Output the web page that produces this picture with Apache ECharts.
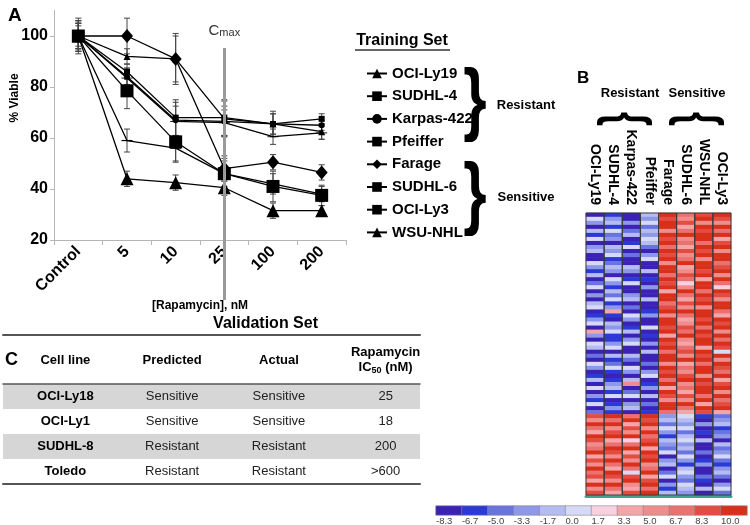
<!DOCTYPE html>
<html><head><meta charset="utf-8">
<script src="https://cdn.jsdelivr.net/npm/echarts@6/dist/echarts.min.js"></script>
<style>html,body{margin:0;padding:0;background:#fff}#c{width:750px;height:525px}</style>
</head><body><div id="c"></div>
<script>
// ---------- Panel A data ----------
const doses = ['Control', '5', '10', '25', '100', '200'];
const lineNames = ['OCI-Ly19', 'SUDHL-4', 'Karpas-422', 'Pfeiffer', 'Farage', 'SUDHL-6', 'OCI-Ly3', 'WSU-NHL'];
const ociLy19   = [100, 92, 91, 67.5, 65.5, 62.5];
const sudhl4    = [100, 86, 68, 68, 65.5, 67.5];
const karpas422 = [100, 84, 67, 66.5, 65.5, 65];
const pfeiffer  = [100, 83.5, 66.5, 66, 60.5, 62];
const farage    = [100, 100, 91, 48, 50.5, 46.5];
const sudhl6    = [100, 59, 56, 46, 42, 38];
const ociLy3    = [100, 78.5, 58.5, 46, 41, 37.5];
const wsuNhl    = [100, 44, 42.5, 40.5, 31.5, 31.5];
// symmetric error bars (+/-)
const errOciLy19   = [6, 3, 9, 7, 4, 3];
const errSudhl4    = [5, 3, 7, 7, 5, 2];
const errKarpas422 = [6, 3, 7, 6, 4, 2];
const errPfeiffer  = [5, 4, 6, 5, 3, 2.5];
const errFarage    = [7, 7, 10, 5, 3, 3];
const errSudhl6    = [6, 4.5, 5, 5, 4, 3];
const errOciLy3    = [5, 7, 8, 6, 6, 4];
const errWsuNhl    = [4, 3, 3, 3, 3, 2];
const cmaxDose = '25';
const yTicks = {min: 20, max: 110, interval: 20};

// ---------- Panel B data ----------
const heatColumns = ['OCI-Ly19', 'SUDHL-4', 'Karpas-422', 'Pfeiffer', 'Farage', 'SUDHL-6', 'WSU-NHL', 'OCI-Ly3'];
const hOciLy19 = [
  -9,-1,-4,-9,-2,-8,-1,-9,-4,-2, -9,-9,-1,-4,-8,-2,-9,-6,-1,-9, -4,-9,-2,-1,-9,-8,-4,-1,-9,2,
  -4,-9,-1,-2,-9,-6,-9,-1,-4,-9, -8,-2,-9,-1,-9,-4,-8,-1,-9,-6,
  7,4,9,6,2,9,7,4,6,9, 2,7,4,9,6,7,2,9,4,7];
const hSudhl4 = [
  -8,-4,-2,-8,-1,-6,-4,-9,-2,-4, -1,-8,-6,-2,-4,-9,-1,-4,-8,-2, -6,-1,-8,-4,2,-8,-9,-2,-4,-1,
  -8,-8,-4,-1,-9,-2,-8,-6,-1,-8, -9,-8,-4,-2,-8,-1,-9,-8,-4,-8,
  9,6,9,4,7,9,2,6,9,7, 4,9,6,2,9,7,4,9,6,2];
const hKarpas422 = [
  -9,-9,-4,-9,-6,-2,-9,-8,-1,-9, -6,-9,-9,-2,-4,-9,-8,-1,-9,-9, -4,-2,-9,-6,-9,-1,-4,-9,-8,-2,
  -9,-4,-1,-9,-9,-2,-6,-9,-1,-4, -9,-2,4,-9,-6,-1,-9,-4,-2,-9,
  6,9,2,7,4,9,1,6,9,2, 7,4,9,6,-1,7,9,4,2,7];
const hPfeiffer = [
  -2,-4,-1,-6,-2,-4,-1,-2,-6,-9, -4,-1,-9,-9,-2,-9,-8,-9,-4,-9, -9,-2,-9,-9,-8,-4,-9,-9,-1,-9,
  -8,-9,-4,-9,-2,-9,-9,-6,-9,-4, -1,-9,-8,-4,-9,-2,-9,-6,-9,-8,
  9,7,9,4,9,6,7,9,2,9, 7,9,4,6,9,2,7,9,6,9];
const hFarage = [
  9,7,9,9,4,9,7,9,6,9, 7,9,4,9,9,6,9,7,9,2, 9,9,6,7,9,4,9,9,7,9,
  2,9,7,9,6,9,9,4,9,7, 9,6,9,2,9,7,4,9,9,6,
  -4,-2,-6,-1,-4,-8,-2,-4,-6,-1, -9,-4,-2,-9,-6,-1,-9,-4,-8,-2];
const hSudhl6 = [
  6,4,7,2,6,9,4,6,2,7, 4,6,9,2,4,7,6,1,4,9, 6,2,7,4,9,6,2,4,7,6,
  9,4,2,6,7,4,9,2,6,4, 7,9,4,6,2,7,4,9,6,2,
  -1,-2,-4,-1,-6,-2,-1,-4,-2,-6, -1,-4,-8,-2,-1,-4,-6,-1,-2,-4];
const hWsuNhl = [
  7,9,4,9,7,9,9,6,9,7, 9,4,9,9,7,9,2,9,9,6, 9,7,9,4,9,9,7,9,6,9,
  7,9,9,2,9,7,9,6,9,9, 4,9,7,9,9,6,9,2,9,7,
  -8,-9,-4,-9,-8,-9,-2,-9,-9,-6, -9,-8,-4,-9,-9,-6,-8,-9,-2,-9];
const hOciLy3 = [
  9,7,4,9,6,9,2,7,9,4, 9,9,6,7,9,4,9,6,1,9, 7,4,9,9,6,2,9,7,9,4,
  9,6,9,7,-1,9,4,9,7,6, 9,2,7,9,4,9,6,7,9,2,
  -6,-4,-2,-8,-6,-4,-9,-2,-6,-4, -1,-6,-8,-4,-2,-6,-9,-4,-1,-6];
const heatValues = [hOciLy19, hSudhl4, hKarpas422, hPfeiffer, hFarage, hSudhl6, hWsuNhl, hOciLy3];
const levelLabels = ['-8.3', '-6.7', '-5.0', '-3.3', '-1.7', '0.0', '1.7', '3.3', '5.0', '6.7', '8.3', '10.0'];
const levelValues = [-9, -8, -6, -4, -2, -1, 1, 2, 4, 6, 7, 9];
const levelBreaks = [-8.33, -6.67, -5, -3.33, -1.67, 0, 1.67, 3.33, 5, 6.67, 8.33];
const levelColors = ['#3b22b4', '#2b39d6', '#6a74e0', '#8e98ea', '#b5bcf2', '#d6daf8',
                     '#f9d0e0', '#f5a5a8', '#f08c8c', '#eb7070', '#e44c42', '#d8301a'];

// ---------- Panel C data ----------
const tableHeaders = ['Cell line', 'Predicted', 'Actual', 'Rapamycin\nIC{s|50} (nM)'];
const valCellLines = ['OCI-Ly18', 'OCI-Ly1', 'SUDHL-8', 'Toledo'];
const valPredicted = ['Sensitive', 'Sensitive', 'Resistant', 'Resistant'];
const valActual    = ['Sensitive', 'Sensitive', 'Resistant', 'Resistant'];
const valIC50      = ['25', '18', '200', '>600'];

// ---------- build ----------
const FONT = '"Liberation Sans", Arial, Helvetica, sans-serif';
const seriesVals = [ociLy19, sudhl4, karpas422, pfeiffer, farage, sudhl6, ociLy3, wsuNhl];
const seriesErr = [errOciLy19, errSudhl4, errKarpas422, errPfeiffer, errFarage, errSudhl6, errOciLy3, errWsuNhl];
const dash = 'path://M0 0H10V3H0Z';
const markers = [
  {symbol: 'triangle', size: 7},
  {symbol: 'rect', size: 6},
  {symbol: 'circle', size: 6},
  {symbol: dash, size: [11, 3]},
  {symbol: 'diamond', size: [12, 14]},
  {symbol: dash, size: [11, 4]},
  {symbol: 'rect', size: 13},
  {symbol: 'triangle', size: 13}
];

function errRender(params, api) {
  const x = api.value(0);
  const p1 = api.coord([x, api.value(1)]);
  const p2 = api.coord([x, api.value(2)]);
  const w = 3;
  const st = {stroke: '#444', lineWidth: 1};
  return {type: 'group', children: [
    {type: 'line', shape: {x1: p1[0], y1: p1[1], x2: p2[0], y2: p2[1]}, style: st},
    {type: 'line', shape: {x1: p1[0] - w, y1: p1[1], x2: p1[0] + w, y2: p1[1]}, style: st},
    {type: 'line', shape: {x1: p2[0] - w, y1: p2[1], x2: p2[0] + w, y2: p2[1]}, style: st}
  ]};
}

const series = [];
lineNames.forEach((n, i) => {
  series.push({
    type: 'line', name: n, xAxisIndex: 0, yAxisIndex: 0, data: seriesVals[i],
    symbol: markers[i].symbol, symbolSize: markers[i].size, symbolKeepAspect: true,
    showAllSymbol: true, lineStyle: {color: '#000', width: 1.3}, itemStyle: {color: '#000'},
    emphasis: {disabled: true}, z: 4
  });
});
lineNames.forEach((n, i) => {
  series.push({
    type: 'custom', xAxisIndex: 0, yAxisIndex: 0, silent: true, z: 3,
    data: seriesVals[i].map((v, j) => [j, v - seriesErr[i][j], v + seriesErr[i][j]]),
    encode: {x: 0, y: [1, 2]}, renderItem: errRender
  });
});
// Cmax line
series.push({
  type: 'line', xAxisIndex: 1, yAxisIndex: 1, data: [], silent: true, z: 2,
  markLine: {
    silent: true, symbol: 'none', animation: false,
    data: [{xAxis: cmaxDose}],
    lineStyle: {color: '#9a9a9a', width: 3, type: 'solid'},
    label: {show: true, position: 'end', distance: 10, formatter: '{a|C}{b|max}',
      rich: {a: {fontSize: 15, color: '#333', fontFamily: FONT, lineHeight: 16, verticalAlign: 'bottom'},
             b: {fontSize: 11, color: '#333', fontFamily: FONT, lineHeight: 16, verticalAlign: 'bottom'}}},
    emphasis: {disabled: true}
  }
});
// heatmap
const rows = heatValues[0].map((_, i) => 'g' + i);
const heatData = [];
heatValues.forEach((col, c) => col.forEach((v, r) => heatData.push([c, r, v])));
series.push({
  type: 'heatmap', xAxisIndex: 2, yAxisIndex: 2, data: heatData, silent: true,
  itemStyle: {borderWidth: 0}, emphasis: {disabled: true}, progressive: 0
});
series.push({
  type: 'custom', xAxisIndex: 2, yAxisIndex: 2, silent: true, z: 5,
  data: heatColumns.map((_, i) => [i, 0]),
  renderItem: function (params, api) {
    const cs = params.coordSys;
    const p = api.coord([api.value(0), 0]);
    const bw = api.size([1, 0])[0];
    return {type: 'rect', shape: {x: p[0] - bw / 2, y: cs.y, width: bw, height: cs.height},
      style: {fill: 'none', stroke: '#3a3a3a', lineWidth: 1}};
  }
});
// colour bar
series.push({
  type: 'heatmap', xAxisIndex: 4, yAxisIndex: 3, silent: true,
  data: levelValues.map((v, i) => [i, 0, v]),
  itemStyle: {borderColor: '#888', borderWidth: 0.6}, emphasis: {disabled: true}
});
// table text
const tableCols = [valCellLines, valPredicted, valActual, valIC50];
const tableCells = [];
valCellLines.forEach((_, r) => tableCols.forEach((_, c) => tableCells.push([c, r])));
series.push({
  type: 'custom', xAxisIndex: 9, yAxisIndex: 5, silent: true, z: 5,
  data: tableCells,
  renderItem: function (params, api) {
    const c = api.value(0), r = api.value(1);
    const p = api.coord([c, r]);
    return {type: 'text', x: p[0], y: p[1], style: {
      text: tableCols[c][r], fontFamily: FONT, fontSize: 13,
      fontWeight: c === 0 ? 'bold' : 'normal', fill: c === 0 ? '#000' : '#222',
      align: 'center', verticalAlign: 'middle'}};
  }
});

const pieces = levelColors.map((col, i) => {
  const p = {color: col};
  if (i > 0) p.gte = levelBreaks[i - 1];
  if (i < levelBreaks.length) p.lt = levelBreaks[i];
  return p;
});

const hidden = {show: false};
const option = {
  animation: false,
  backgroundColor: '#fff',
  textStyle: {fontFamily: FONT},
  grid: [
    {left: 54, top: 10.5, width: 292, height: 229.5, outerBoundsMode: 'none'},
    {left: 54, top: 48, width: 292, height: 252, outerBoundsMode: 'none'},
    {left: 586, top: 213, width: 145, height: 282, outerBoundsMode: 'none'},
    {left: 436, top: 506, width: 311, height: 9, outerBoundsMode: 'none'},
    {left: 3, top: 384, width: 417, height: 100, outerBoundsMode: 'none'},
    {left: 12, top: 384, width: 427, height: 100, outerBoundsMode: 'none'}
  ],
  xAxis: [
    {gridIndex: 0, type: 'category', data: doses,
      axisLine: {lineStyle: {color: '#b5b5b5', width: 1}},
      axisTick: {show: true, length: 5, lineStyle: {color: '#b5b5b5'}},
      axisLabel: {interval: 0, rotate: 45, margin: 9, fontSize: 16, fontWeight: 'bold', color: '#000', fontFamily: FONT},
      name: '[Rapamycin], nM', nameLocation: 'middle', nameGap: 60,
      nameTextStyle: {fontSize: 12, fontWeight: 'bold', color: '#000', fontFamily: FONT},
      splitLine: hidden},
    {gridIndex: 1, type: 'category', data: doses, show: false},
    {gridIndex: 2, type: 'category', data: heatColumns, position: 'top',
      axisLine: hidden, axisTick: hidden, splitLine: hidden,
      axisLabel: {interval: 0, rotate: 90, margin: 8, fontSize: 14, fontWeight: 'bold', color: '#000', fontFamily: FONT}},
    {gridIndex: 2, type: 'category', data: heatColumns, position: 'bottom', offset: 1,
      axisLine: {show: true, lineStyle: {color: '#3fa58f', width: 3}}, axisTick: hidden, axisLabel: hidden, splitLine: hidden},
    {gridIndex: 3, type: 'category', data: levelLabels, position: 'top', show: false},
    {gridIndex: 3, type: 'category', data: levelLabels.concat(['']), position: 'bottom', boundaryGap: false,
      axisLine: hidden, axisTick: hidden, splitLine: hidden,
      axisLabel: {interval: 0, align: 'left', margin: 1, fontSize: 9.5, color: '#444', fontFamily: FONT}},
    {gridIndex: 4, type: 'category', data: tableHeaders, position: 'bottom',
      axisLine: {show: true, lineStyle: {color: '#555', width: 2}}, axisTick: hidden, axisLabel: hidden, splitLine: hidden},
    {gridIndex: 4, type: 'category', data: tableHeaders, position: 'top',
      axisLine: {show: true, lineStyle: {color: '#555', width: 1.5}}, axisTick: hidden, axisLabel: hidden, splitLine: hidden},
    {gridIndex: 4, type: 'category', data: tableHeaders, position: 'top', offset: 49,
      axisLine: {show: true, lineStyle: {color: '#555', width: 2}}, axisTick: hidden, axisLabel: hidden, splitLine: hidden},
    {gridIndex: 5, type: 'category', data: tableHeaders, position: 'top',
      axisLine: hidden, axisTick: hidden, splitLine: hidden,
      axisLabel: {interval: 0, margin: 24, verticalAlign: 'middle', lineHeight: 15, fontSize: 13, fontWeight: 'bold', color: '#000', fontFamily: FONT,
        rich: {s: {fontSize: 9, fontWeight: 'bold', color: '#000', verticalAlign: 'bottom', lineHeight: 15, fontFamily: FONT}}}}
  ],
  yAxis: [
    {gridIndex: 0, type: 'value', min: yTicks.min, max: yTicks.max, interval: yTicks.interval,
      axisLine: {show: true, lineStyle: {color: '#b5b5b5', width: 1}},
      axisTick: {show: true, length: 4, lineStyle: {color: '#b5b5b5'}},
      axisLabel: {showMaxLabel: false, margin: 6, fontSize: 16, fontWeight: 'bold', color: '#000', fontFamily: FONT},
      splitLine: hidden},
    {gridIndex: 1, type: 'value', min: 0, max: 1, show: false},
    {gridIndex: 2, type: 'category', data: rows, inverse: true, show: false},
    {gridIndex: 3, type: 'category', data: ['bar'], show: false},
    {gridIndex: 4, type: 'category', data: valCellLines, inverse: true,
      axisLine: hidden, axisTick: hidden, axisLabel: hidden, splitLine: hidden,
      splitArea: {show: true, areaStyle: {color: ['#d6d6d6', '#ffffff']}}},
    {gridIndex: 5, type: 'category', data: valCellLines, inverse: true, show: false}
  ],
  visualMap: {type: 'piecewise', show: false, seriesIndex: [17, 19], dimension: 2, pieces: pieces},
  legend: {
    data: lineNames, orient: 'vertical', left: 361, top: 61, itemWidth: 20, itemHeight: 12, itemGap: 7.7,
    selectedMode: false, textStyle: {fontSize: 15, fontWeight: 'bold', color: '#000', fontFamily: FONT}
  },
  graphic: [
    {type: 'text', x: 8, y: 6, style: {text: 'A', fontSize: 19, fontWeight: 'bold', fill: '#000', fontFamily: FONT}},
    {type: 'text', x: 15, y: 98, rotation: Math.PI / 2, style: {text: '% Viable', fontSize: 12, fontWeight: 'bold', fill: '#000', fontFamily: FONT, align: 'center', verticalAlign: 'middle'}},
    {type: 'text', x: 402, y: 41, style: {text: 'Training Set', fontSize: 16, fontWeight: 'bold', fill: '#000', fontFamily: FONT, align: 'center', verticalAlign: 'middle'}},
    {type: 'line', shape: {x1: 355, y1: 50, x2: 450, y2: 50}, style: {stroke: '#333', lineWidth: 1.5}},
    {type: 'text', x: 475, y: 103, scaleX: 0.75, style: {text: '}', fontSize: 80, fontWeight: 'bold', fill: '#000', fontFamily: FONT, align: 'center', verticalAlign: 'middle'}},
    {type: 'text', x: 475, y: 197, scaleX: 0.75, style: {text: '}', fontSize: 80, fontWeight: 'bold', fill: '#000', fontFamily: FONT, align: 'center', verticalAlign: 'middle'}},
    {type: 'text', x: 526, y: 105, style: {text: 'Resistant', fontSize: 13, fontWeight: 'bold', fill: '#000', fontFamily: FONT, align: 'center', verticalAlign: 'middle'}},
    {type: 'text', x: 526, y: 197, style: {text: 'Sensitive', fontSize: 13, fontWeight: 'bold', fill: '#000', fontFamily: FONT, align: 'center', verticalAlign: 'middle'}},
    {type: 'text', x: 577, y: 70, style: {text: 'B', fontSize: 17, fontWeight: 'bold', fill: '#000', fontFamily: FONT}},
    {type: 'text', x: 630, y: 93, style: {text: 'Resistant', fontSize: 13, fontWeight: 'bold', fill: '#000', fontFamily: FONT, align: 'center', verticalAlign: 'middle'}},
    {type: 'text', x: 697, y: 93, style: {text: 'Sensitive', fontSize: 13, fontWeight: 'bold', fill: '#000', fontFamily: FONT, align: 'center', verticalAlign: 'middle'}},
    {type: 'text', x: 623, y: 119, rotation: Math.PI / 2, scaleX: 0.6, style: {text: '}', fontSize: 60, fontWeight: 'bold', fill: '#000', fontFamily: FONT, align: 'center', verticalAlign: 'middle'}},
    {type: 'text', x: 695, y: 119, rotation: Math.PI / 2, scaleX: 0.6, style: {text: '}', fontSize: 60, fontWeight: 'bold', fill: '#000', fontFamily: FONT, align: 'center', verticalAlign: 'middle'}},
    {type: 'text', x: 318, y: 324, style: {text: 'Validation Set', fontSize: 16, fontWeight: 'bold', fill: '#000', fontFamily: FONT, align: 'right', verticalAlign: 'middle'}},
    {type: 'text', x: 5, y: 351, style: {text: 'C', fontSize: 18, fontWeight: 'bold', fill: '#000', fontFamily: FONT}}
  ],
  series: series
};
const chart = echarts.init(document.getElementById('c'), null, {renderer: 'canvas'});
chart.setOption(option);
</script></body></html>
